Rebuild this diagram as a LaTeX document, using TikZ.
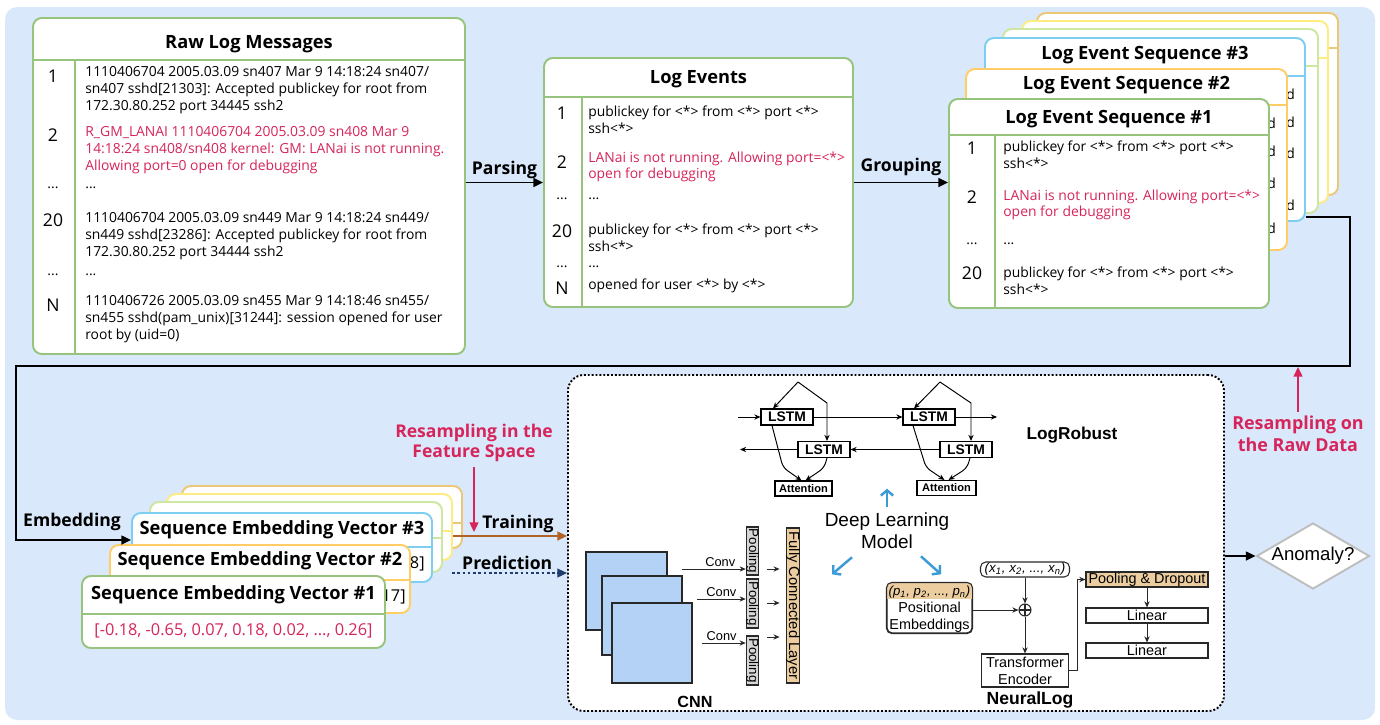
\documentclass[tikz,border=0pt]{standalone}
\usepackage{fontspec}
\setmainfont{Open Sans}
\newfontfamily\arialfont{Liberation Sans}
\usepackage{graphicx}
\usepackage{xcolor}
\usepackage{tikz}
\usetikzlibrary{shapes.geometric, arrows.meta}

\definecolor{bgblue}{RGB}{218,232,252}
\definecolor{boxgreen}{RGB}{151,196,125}
\definecolor{cardorange}{RGB}{255,204,102}
\definecolor{cardblue}{RGB}{125,206,240}
\definecolor{cardlime}{RGB}{205,230,160}
\definecolor{cardyellow}{RGB}{255,236,128}
\definecolor{cardtan}{RGB}{235,200,120}
\definecolor{alertred}{RGB}{214,37,90}
\definecolor{trainbrown}{RGB}{178,98,38}
\definecolor{prednavy}{RGB}{30,60,110}
\definecolor{hintblue}{RGB}{60,155,215}
\definecolor{mapblue}{RGB}{180,210,245}
\definecolor{tanfill}{RGB}{235,205,160}
\definecolor{poolgray}{RGB}{215,215,215}
\definecolor{diamondgray}{RGB}{190,190,190}
\definecolor{darkline}{RGB}{40,40,40}

\newcommand{\pxu}{0.02cm}

\tikzstyle{tablebox} = [rectangle, rounded corners=5pt, draw=boxgreen, line width=1.1pt, fill=white, inner sep=0pt]
\tikzstyle{card} = [rectangle, rounded corners=5pt, line width=1.1pt, fill=white, inner sep=0pt]
\tikzstyle{divider} = [line width=1.1pt]
\tikzstyle{titletext} = [inner sep=0pt, font=\bfseries\fontsize{10.4}{12}\selectfont]
\tikzstyle{rowtext} = [anchor=west, align=left, inner sep=0pt, font=\fontsize{7.9}{9.5}\selectfont]
\tikzstyle{numtext} = [inner sep=0pt, font=\fontsize{10}{12}\selectfont]
\tikzstyle{dots} = [inner sep=0pt, font=\fontsize{7.9}{9.5}\selectfont]
\tikzstyle{steplabel} = [inner sep=1.5pt, font=\bfseries\fontsize{10}{12}\selectfont]
\tikzstyle{redlabel} = [inner sep=0pt, align=center, text=alertred, font=\bfseries\fontsize{10}{11.6}\selectfont]
\tikzstyle{arrow} = [line width=1.1pt, -{Triangle[length=5.5pt,width=5pt]}]
\tikzstyle{thinarrow} = [line width=0.55pt, draw=darkline, -{Stealth[length=3.5pt,width=3pt]}]
\tikzstyle{lstmbox} = [rectangle, draw, line width=0.6pt, fill=white, inner sep=0pt, minimum width=52*\pxu, minimum height=16*\pxu, font=\arialfont\bfseries\fontsize{7.9}{9}\selectfont]
\tikzstyle{attbox} = [lstmbox, minimum width=57*\pxu, minimum height=15*\pxu, font=\arialfont\bfseries\fontsize{6.3}{7}\selectfont]
\tikzstyle{layerbox} = [rectangle, draw=darkline, line width=0.6pt, fill=white, inner sep=0pt, align=center, font=\arialfont\fontsize{8.2}{9.6}\selectfont]
\tikzstyle{roundbox} = [layerbox, rounded corners=3pt]
\tikzstyle{fmap} = [rectangle, draw=darkline, line width=0.7pt, fill=mapblue, inner sep=0pt]
\tikzstyle{convlabel} = [inner sep=1pt, font=\arialfont\fontsize{7.3}{8}\selectfont]
\tikzstyle{modelname} = [inner sep=0pt, font=\arialfont\bfseries\fontsize{9.8}{11}\selectfont]
\tikzstyle{bluearrow} = [line width=1.4pt, draw=hintblue, -{Straight Barb[length=3pt,width=7pt]}]

\begin{document}
\begin{tikzpicture}[x=0.02cm, y=-0.02cm]
    \useasboundingbox (0,0) rectangle (1380,724);
    \fill [bgblue, rounded corners=7pt] (5,7) rectangle (1375,720);

    % raw log messages
    \node (raw) [tablebox, minimum width=432*\pxu, minimum height=336*\pxu] at (249,186) {};
    \draw [divider, boxgreen] (33,60) -- (465,60);
    \draw [divider, boxgreen] (75,60) -- (75,354);
    \node (rawtitle) [titletext] at (249,44) {Raw Log Messages};
    \node (raw1n) [numtext] at (53,76) {1};
    \node (raw2n) [numtext] at (53,135) {2};
    \node (rawdn) [dots] at (53,188) {...};
    \node (raw20n) [numtext] at (53,220) {20};
    \node (rawdn2) [dots] at (53,275) {...};
    \node (rawNn) [numtext] at (53,305) {N};
    \node (raw1) [rowtext] at (85,90) {1110406704 2005.03.09 sn407 Mar 9 14:18:24 sn407/\\sn407 sshd[21303]: Accepted publickey for root from\\172.30.80.252 port 34445 ssh2};
    \node (raw2) [rowtext, text=alertred] at (85,150) {R\_GM\_LANAI 1110406704 2005.03.09 sn408 Mar 9\\14:18:24 sn408/sn408 kernel: GM: LANai is not running.\\Allowing port=0 open for debugging};
    \node (rawd) [rowtext] at (85,188) {...};
    \node (raw20) [rowtext] at (85,236) {1110406704 2005.03.09 sn449 Mar 9 14:18:24 sn449/\\sn449 sshd[23286]: Accepted publickey for root from\\172.30.80.252 port 34444 ssh2};
    \node (rawd2) [rowtext] at (85,275) {...};
    \node (rawN) [rowtext] at (85,319) {1110406726 2005.03.09 sn455 Mar 9 14:18:46 sn455/\\sn455 sshd(pam\_unix)[31244]: session opened for user\\root by (uid=0)};

    % log events
    \node (events) [tablebox, minimum width=309*\pxu, minimum height=249*\pxu] at (698.5,182.5) {};
    \draw [divider, boxgreen] (544,97) -- (853,97);
    \draw [divider, boxgreen] (582,97) -- (582,307);
    \node (evtitle) [titletext] at (698.5,79) {Log Events};
    \node (ev1n) [numtext] at (562,113) {1};
    \node (ev2n) [numtext] at (562,162) {2};
    \node (evdn) [dots] at (562,199) {...};
    \node (ev20n) [numtext] at (562,231) {20};
    \node (evdn2) [dots] at (562,267) {...};
    \node (evNn) [numtext] at (562,288) {N};
    \node (ev1) [rowtext] at (588,119.5) {publickey for <*> from <*> port <*>\\ssh<*>};
    \node (ev2) [rowtext, text=alertred] at (588,167) {LANai is not running. Allowing port=<*>\\open for debugging};
    \node (evd) [rowtext] at (588,199) {...};
    \node (ev20) [rowtext] at (588,237.5) {publickey for <*> from <*> port <*>\\ssh<*>};
    \node (evd2) [rowtext] at (588,267) {...};
    \node (evN) [rowtext] at (588,286) {opened for user <*> by <*>};

    % log event sequences, back to front
    \node (s6) [card, draw=cardtan, minimum width=301*\pxu, minimum height=182*\pxu] at (1187.5,104) {};
    \draw [divider, cardtan] (1037,48) -- (1338,48);
    \node (s5) [card, draw=cardyellow, minimum width=306*\pxu, minimum height=182*\pxu] at (1175,112) {};
    \draw [divider, cardyellow] (1022,58) -- (1328,58);
    \node (s4) [card, draw=cardlime, minimum width=315*\pxu, minimum height=184*\pxu] at (1160.5,121) {};
    \draw [divider, cardlime] (1003,66) -- (1318,66);
    \node (s3) [card, draw=cardblue, minimum width=320*\pxu, minimum height=183*\pxu] at (1145,129.5) {};
    \draw [divider, cardblue] (985,76) -- (1305,76);
    \node (s3title) [titletext] at (1145,55) {Log Event Sequence \#3};
    \node (s3d1) [rowtext] at (1286,94) {d};
    \node (s3d2) [rowtext] at (1286,122) {d};
    \node (s3d3) [rowtext] at (1286,153) {d};
    \node (s3d4) [rowtext] at (1286,205) {d};
    \node (s2) [card, draw=cardorange, minimum width=321*\pxu, minimum height=181*\pxu] at (1126.5,159.5) {};
    \draw [divider, cardorange] (966,105) -- (1287,105);
    \node (s2title) [titletext] at (1126.5,85) {Log Event Sequence \#2};
    \node (s2d1) [rowtext] at (1267,123) {d};
    \node (s2d2) [rowtext] at (1267,151) {d};
    \node (s2d3) [rowtext] at (1267,183) {d};
    \node (s2d4) [rowtext] at (1267,228) {d};
    \node (s1) [card, draw=boxgreen, minimum width=320*\pxu, minimum height=209*\pxu] at (1109,203.5) {};
    \draw [divider, boxgreen] (949,135) -- (1269,135);
    \draw [divider, boxgreen] (995,135) -- (995,308);
    \node (s1title) [titletext] at (1109,119) {Log Event Sequence \#1};
    \node (q1n) [numtext] at (972,148) {1};
    \node (q2n) [numtext] at (972,197) {2};
    \node (qdn) [dots] at (972,244) {...};
    \node (q20n) [numtext] at (972,273) {20};
    \node (q1) [rowtext] at (1003,154.5) {publickey for <*> from <*> port <*>\\ssh<*>};
    \node (q2) [rowtext, text=alertred] at (1003,205) {LANai is not running. Allowing port=<*>\\open for debugging};
    \node (qd) [rowtext] at (1003,244) {...};
    \node (q20) [rowtext] at (1003,280.5) {publickey for <*> from <*> port <*>\\ssh<*>};

    % sequence embedding vectors, back to front
    \node (e6) [card, draw=cardtan, minimum width=280*\pxu, minimum height=62*\pxu] at (322,517) {};
    \draw [divider, cardtan] (182,523) -- (462,523);
    \node (e5) [card, draw=cardyellow, minimum width=285*\pxu, minimum height=66*\pxu] at (309.5,527) {};
    \draw [divider, cardyellow] (167,531) -- (452,531);
    \node (e4) [card, draw=cardlime, minimum width=292*\pxu, minimum height=70*\pxu] at (296,537) {};
    \draw [divider, cardlime] (150,538) -- (442,538);
    \node (e3) [card, draw=cardblue, minimum width=300*\pxu, minimum height=69*\pxu] at (282,547.5) {};
    \draw [divider, cardblue] (132,547) -- (432,547);
    \node (e3title) [titletext] at (282,530) {Sequence Embedding Vector \#3};
    \node (e3val) [rowtext, anchor=east, font=\fontsize{9.3}{11}\selectfont] at (425,564) {8]};
    \node (e2) [card, draw=cardorange, minimum width=300*\pxu, minimum height=68*\pxu] at (260,579) {};
    \draw [divider, cardorange] (110,580) -- (410,580);
    \node (e2title) [titletext] at (260,561) {Sequence Embedding Vector \#2};
    \node (e2val) [rowtext, anchor=east, font=\fontsize{9.3}{11}\selectfont] at (406,597) {17]};
    \node (e1) [card, draw=boxgreen, minimum width=303*\pxu, minimum height=72*\pxu] at (233.5,612) {};
    \draw [divider, boxgreen] (82,614) -- (385,614);
    \node (e1title) [titletext] at (233.5,595) {Sequence Embedding Vector \#1};
    \node (e1val) [inner sep=0pt, text=alertred, font=\fontsize{9.3}{11}\selectfont] at (233.5,631) {[-0.18, -0.65, 0.07, 0.18, 0.02, ..., 0.26]};

    % deep learning model box
    \node (dl) [rectangle, rounded corners=9pt, draw, line width=1.1pt, dash pattern=on 1.1pt off 1.1pt, fill=white, minimum width=656*\pxu, minimum height=336*\pxu] at (896,543) {};

    % LogRobust
    \node (lstm1) [lstmbox] at (787,417) {LSTM};
    \node (lstm2) [lstmbox] at (824,449.5) {LSTM};
    \node (lstm3) [lstmbox] at (929,417) {LSTM};
    \node (lstm4) [lstmbox] at (966,449.5) {LSTM};
    \node (att1) [attbox] at (803.5,488.5) {Attention};
    \node (att2) [attbox, minimum width=59*\pxu] at (946.5,488) {Attention};
    \coordinate (lin) at (738,417);
    \coordinate (lout) at (997,417);
    \coordinate (lbout) at (740,449.5);
    \coordinate (apex1) at (798,382);
    \coordinate (apex2) at (940,382);
    \draw [thinarrow, draw=black] (lin) -- (lstm1.west);
    \draw [thinarrow, draw=black] (lstm1.east) -- (lstm3.west);
    \draw [thinarrow, draw=black] (lstm3.east) -- (lout);
    \draw [thinarrow, draw=black] (lstm4.west) -- (lstm2.east);
    \draw [thinarrow, draw=black] (lstm2.west) -- (lbout);
    \draw [thinarrow, draw=black] (apex1) -- ([xshift=-14*\pxu]lstm1.north);
    \draw [thinarrow, draw=black] (apex1) -- ++(29,21) -- ([xshift=3*\pxu]lstm2.north);
    \draw [thinarrow, draw=black] (apex2) -- ([xshift=-15*\pxu]lstm3.north);
    \draw [thinarrow, draw=black] (apex2) -- ++(31,21) -- ([xshift=5*\pxu]lstm4.north);
    \draw [thinarrow, draw=black, rounded corners=3pt] ([xshift=-15*\pxu]lstm1.south) -- ++(11,42) -- ([xshift=-2*\pxu]att1.north);
    \draw [thinarrow, draw=black, rounded corners=3pt] ([xshift=3*\pxu]lstm2.south) -- ++(-3,10) -- ([xshift=2*\pxu]att1.north);
    \draw [thinarrow, draw=black, rounded corners=3pt] ([xshift=-16*\pxu]lstm3.south) -- ++(13,42) -- ([xshift=-2*\pxu]att2.north);
    \draw [thinarrow, draw=black, rounded corners=3pt] ([xshift=4*\pxu]lstm4.south) -- ++(-3,10) -- ([xshift=2*\pxu]att2.north);
    \node (logrobust) [modelname] at (1072,435) {LogRobust};

    % centre text and hints
    \node (dlm) [inner sep=0pt, align=center, font=\arialfont\fontsize{10.8}{12.5}\selectfont] at (887,531) {Deep Learning\\Model};
    \draw [bluearrow] ([yshift=6*\pxu]dlm.north) -- ++(0,-18);
    \draw [bluearrow] (dlm.south) ++(-35,8) -- ++(-20,17);
    \draw [bluearrow] (dlm.south) ++(34,7) -- ++(20,18);

    % CNN
    \node (map1) [fmap, minimum width=81*\pxu, minimum height=78*\pxu] at (626.5,591) {};
    \node (map2) [fmap, minimum width=80*\pxu, minimum height=79*\pxu] at (642,615.5) {};
    \node (map3) [fmap, minimum width=80*\pxu, minimum height=80*\pxu] at (652,643) {};
    \node (pool1) [layerbox, fill=poolgray, minimum width=11*\pxu, minimum height=48*\pxu, font=\arialfont\fontsize{7.6}{8}\selectfont] at (752.5,551) {\rotatebox{-90}{Pooling}};
    \node (pool2) [layerbox, fill=poolgray, minimum width=11*\pxu, minimum height=49*\pxu, font=\arialfont\fontsize{7.6}{8}\selectfont] at (752.5,603.5) {\rotatebox{-90}{Pooling}};
    \node (pool3) [layerbox, fill=poolgray, minimum width=11*\pxu, minimum height=49*\pxu, font=\arialfont\fontsize{7.6}{8}\selectfont] at (752.5,660.5) {\rotatebox{-90}{Pooling}};
    \node (fc) [layerbox, fill=tanfill, minimum width=12*\pxu, minimum height=155*\pxu, font=\arialfont\fontsize{8.4}{9}\selectfont] at (793,605.5) {\rotatebox{-90}{Fully Connected Layer}};
    \coordinate (conv1) at (682,569);
    \coordinate (conv2) at (697,599);
    \coordinate (conv3) at (702,643);
    \draw [thinarrow] (conv1) -- node[convlabel, above, pos=0.6] {Conv} (conv1 -| pool1.west);
    \draw [thinarrow] (conv2) -- node[convlabel, above, pos=0.5] {Conv} (conv2 -| pool2.west);
    \draw [thinarrow] (conv3) -- node[convlabel, above, pos=0.45] {Conv} (conv3 -| pool3.west);
    \coordinate (fcin1) at (767,569);
    \coordinate (fcin2) at (767,603);
    \coordinate (fcin3) at (767,637);
    \draw [thinarrow, shorten >=3.4pt] (fcin1) -- (fcin1 -| fc.west);
    \draw [thinarrow, shorten >=3.4pt] (fcin2) -- (fcin2 -| fc.west);
    \draw [thinarrow, shorten >=3.4pt] (fcin3) -- (fcin3 -| fc.west);
    \node (cnn) [modelname, font=\arialfont\bfseries\fontsize{9.2}{10}\selectfont] at (695,702) {CNN};

    % NeuralLog
    \node (posemb) [roundbox, minimum width=85*\pxu, minimum height=50*\pxu] at (929.5,608) {};
    \begin{scope}
        \clip [rounded corners=3pt] (posemb.north west) rectangle (posemb.south east);
        \fill [tanfill] (posemb.north west) rectangle ([yshift=-17*\pxu]posemb.north east);
    \end{scope}
    \draw [line width=0.6pt, draw=darkline, rounded corners=3pt] (posemb.north west) rectangle (posemb.south east);
    \node (pvec) [inner sep=0pt, font=\arialfont\itshape\fontsize{7.5}{9}\selectfont] at (929.5,592) {(p\textsubscript{1}, p\textsubscript{2}, ..., p\textsubscript{n})};
    \node (postext) [inner sep=0pt, align=center, font=\arialfont\fontsize{8.2}{9.6}\selectfont] at (929.5,617) {Positional\\Embeddings};
    \node (xin) [roundbox, minimum width=89*\pxu, minimum height=15*\pxu, font=\arialfont\itshape\fontsize{7.6}{9}\selectfont] at (1025,569.5) {(x\textsubscript{1}, x\textsubscript{2}, ..., x\textsubscript{n})};
    \node (plus) [circle, draw=darkline, line width=0.6pt, minimum size=12*\pxu, inner sep=0pt, path picture={\draw [line width=0.6pt, darkline] (path picture bounding box.north) -- (path picture bounding box.south) (path picture bounding box.west) -- (path picture bounding box.east);}] at (1025,610) {};
    \node (trans) [layerbox, minimum width=87*\pxu, minimum height=33*\pxu] at (1025,670.5) {Transformer\\Encoder};
    \node (pooldrop) [layerbox, fill=tanfill, minimum width=122*\pxu, minimum height=15*\pxu] at (1147,579.5) {Pooling \& Dropout};
    \node (lin1) [layerbox, minimum width=122*\pxu, minimum height=15*\pxu] at (1147,615.5) {Linear};
    \node (lin2) [layerbox, minimum width=122*\pxu, minimum height=15*\pxu] at (1147,650.5) {Linear};
    \draw [thinarrow] (xin.south) -- (plus.north);
    \draw [thinarrow] (posemb.east |- plus.west) -- (plus.west);
    \draw [thinarrow] (plus.south) -- (trans.north);
    \draw [thinarrow] (trans.east) -- ++(8,0) |- (pooldrop.west);
    \draw [thinarrow] (pooldrop.south) -- (lin1.north);
    \draw [thinarrow] (lin1.south) -- (lin2.north);
    \node (neurallog) [modelname, font=\arialfont\bfseries\fontsize{10}{11}\selectfont] at (1030,700) {NeuralLog};

    % anomaly
    \node (anomaly) [diamond, draw=diamondgray, line width=1.1pt, fill=white, aspect=1.7, minimum width=113*\pxu, minimum height=66*\pxu, inner sep=0pt, font=\arialfont\fontsize{10.6}{12}\selectfont] at (1313,556) {Anomaly?};

    % resampling labels
    \node (rawres) [redlabel, font=\bfseries\fontsize{10.2}{12.4}\selectfont] at (1298,434) {Resampling on\\the Raw Data};
    \node (featres) [redlabel] at (474,443) {Resampling in the\\Feature Space};
    \coordinate (rawresend) at (1298,367);
    \coordinate (featresend) at (474,532);

    % connectors
    \coordinate (bendR) at (1350,366);
    \coordinate (bendL) at (16,540);
    \coordinate (trainstart) at ([yshift=-9*\pxu]e5.east);
    \coordinate (predstart) at (452,573);
    \draw [arrow] (raw.east |- events.west) -- node[steplabel, above] {Parsing} (events.west);
    \draw [arrow] (events.east) -- node[steplabel, above=2pt] {Grouping} (events.east -| s1.west);
    \draw [line width=1.1pt, -{Triangle[length=5.5pt,width=5pt]}] ([yshift=5*\pxu]s3.south east) -| (bendR) -| (bendL) -- ([yshift=7.5*\pxu]e3.west);
    \node (embedlabel) [steplabel] at (72,522) {Embedding};
    \draw [arrow, draw=trainbrown, fill=trainbrown] (trainstart) -- node[steplabel, above, pos=0.57] {Training} (trainstart -| dl.west);
    \draw [line width=1pt, draw=prednavy, dash pattern=on 1.5pt off 1.5pt, -{Triangle[length=5.5pt,width=5pt,fill=prednavy]}] (predstart) -- node[steplabel, above, pos=0.48] {Prediction} (predstart -| dl.west);
    \draw [arrow, draw=alertred, fill=alertred] ([yshift=-5*\pxu]featres.south) -- (featresend);
    \draw [arrow, draw=alertred, fill=alertred] ([yshift=4*\pxu]rawres.north) -- (rawresend);
    \draw [arrow] (dl.east |- anomaly.west) -- (anomaly.west);
\end{tikzpicture}
\end{document}
